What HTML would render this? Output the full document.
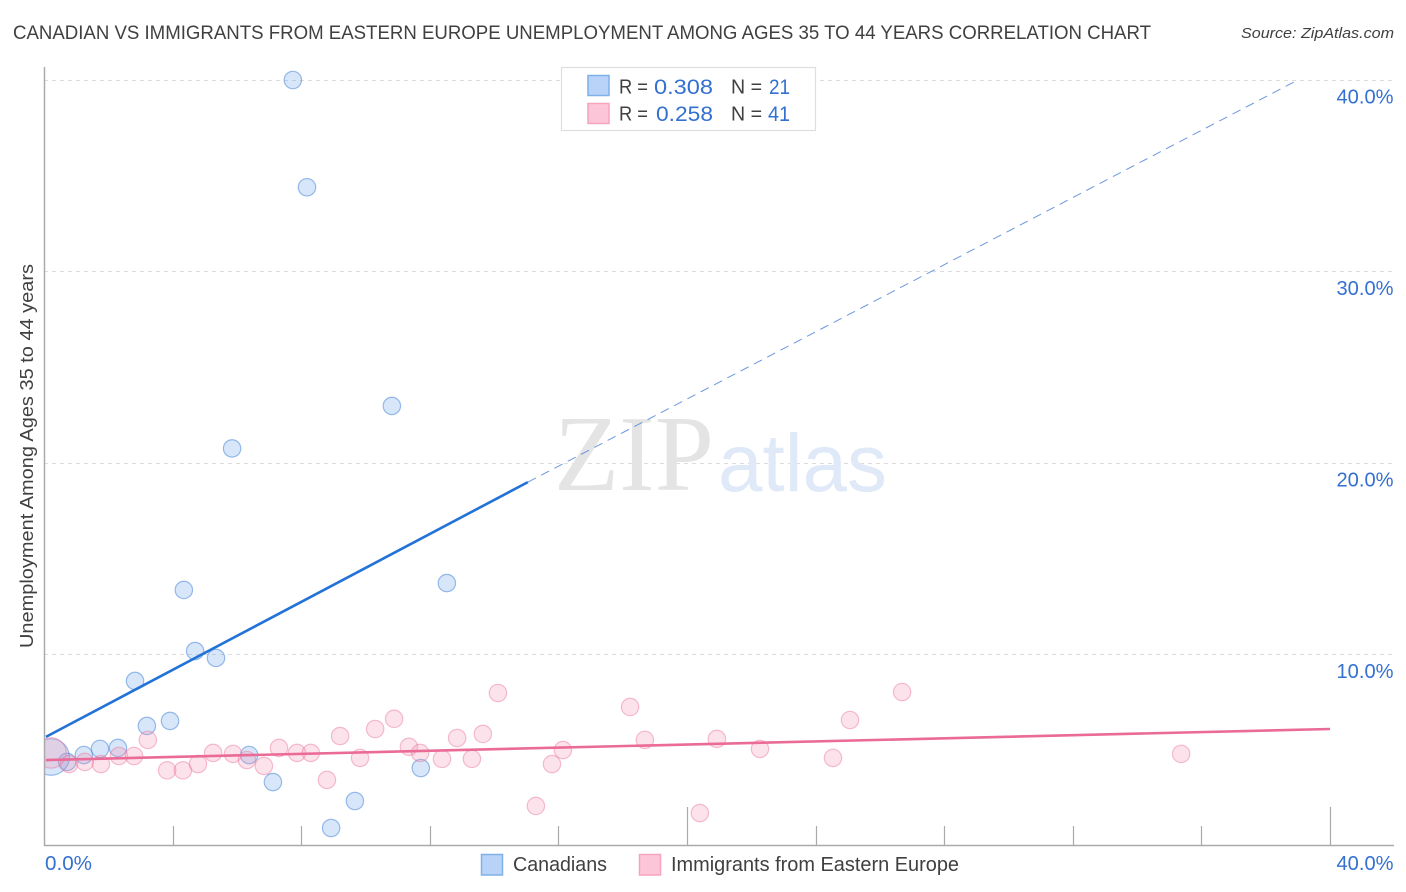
<!DOCTYPE html>
<html lang="en">
<head>
<meta charset="utf-8">
<title>Canadian vs Immigrants from Eastern Europe Unemployment Correlation Chart</title>
<style>
html,body{margin:0;padding:0;background:#fff;}
body{width:1406px;height:892px;overflow:hidden;}
svg{display:block;font-family:"Liberation Sans",sans-serif;}
</style>
</head>
<body>
<svg id="chart" xmlns="http://www.w3.org/2000/svg" width="1406" height="892" viewBox="0 0 1406 892">
  <rect width="1406" height="892" fill="#fff"/>
  <text x="13" y="39" font-size="19" fill="#404040" textLength="1138" lengthAdjust="spacingAndGlyphs">CANADIAN VS IMMIGRANTS FROM EASTERN EUROPE UNEMPLOYMENT AMONG AGES 35 TO 44 YEARS CORRELATION CHART</text>
  <text x="1394" y="38" font-size="15" font-style="italic" fill="#404040" text-anchor="end" textLength="153" lengthAdjust="spacingAndGlyphs">Source: ZipAtlas.com</text>

  <g id="grid"></g>

  <text x="554" y="490" font-family="'Liberation Serif',serif" font-size="108" fill="#e4e4e4" textLength="160" lengthAdjust="spacingAndGlyphs">ZIP</text>
  <text x="718" y="491" font-size="82" fill="#dfe9f8" textLength="169" lengthAdjust="spacingAndGlyphs">atlas</text>

  <g id="points"></g>
  <rect x="0" y="725" width="44" height="60" fill="#fff"/>
  <g id="axes"></g>
  <g id="trends"></g>
  <g id="tick-labels"></g>

  <text transform="translate(33,648) rotate(-90)" font-size="18.5" fill="#404040" textLength="384" lengthAdjust="spacingAndGlyphs">Unemployment Among Ages 35 to 44 years</text>

  <g>
    <rect x="561.5" y="67.5" width="254" height="63" fill="#fff" stroke="#dedede" stroke-width="1.2"/>
    <rect x="588" y="75.5" width="21" height="20" fill="#b8d3f7" stroke="#7fb0e8" stroke-width="1.5"/>
    <rect x="588" y="103.5" width="21" height="20" fill="#fdc6d8" stroke="#f5a3bf" stroke-width="1.5"/>
    <text x="619" y="93.5" font-size="20" fill="#404040" textLength="29" lengthAdjust="spacingAndGlyphs">R =</text>
    <text x="654" y="94" font-size="21" fill="#3470d0" textLength="59" lengthAdjust="spacingAndGlyphs">0.308</text>
    <text x="731" y="93.5" font-size="20" fill="#404040" textLength="31" lengthAdjust="spacingAndGlyphs">N =</text>
    <text x="769" y="94" font-size="21" fill="#3470d0" textLength="21" lengthAdjust="spacingAndGlyphs">21</text>
    <text x="619" y="120.5" font-size="20" fill="#404040" textLength="29" lengthAdjust="spacingAndGlyphs">R =</text>
    <text x="656" y="121" font-size="21" fill="#3470d0" textLength="57" lengthAdjust="spacingAndGlyphs">0.258</text>
    <text x="731" y="120.5" font-size="20" fill="#404040" textLength="31" lengthAdjust="spacingAndGlyphs">N =</text>
    <text x="768" y="121" font-size="21" fill="#3470d0" textLength="22" lengthAdjust="spacingAndGlyphs">41</text>
  </g>

  <g>
    <rect x="481.5" y="854.5" width="21" height="20.5" fill="#b8d3f7" stroke="#7fb0e8" stroke-width="1.5"/>
    <text x="513" y="871" font-size="20" fill="#404040" textLength="94" lengthAdjust="spacingAndGlyphs">Canadians</text>
    <rect x="639.5" y="854.5" width="21" height="20.5" fill="#fdc6d8" stroke="#f5a3bf" stroke-width="1.5"/>
    <text x="671" y="871" font-size="20" fill="#404040" textLength="288" lengthAdjust="spacingAndGlyphs">Immigrants from Eastern Europe</text>
  </g>
</svg>
<script>
// Chart data (percent values)
const canadiansX = [7.74, 8.18, 10.82, 5.85, 12.53, 4.35, 4.70, 5.35, 2.83, 3.20, 3.92, 1.74, 2.30, 1.24, 0.72, 0.22, 6.38, 7.12, 11.72, 9.67, 8.93];
const canadiansY = [40.0, 34.4, 22.98, 20.76, 13.73, 13.37, 10.18, 9.82, 8.62, 6.27, 6.53, 5.07, 5.12, 4.75, 4.39, 4.65, 4.75, 3.34, 4.07, 2.35, 0.94];
const canadiansR = [1, 1, 1, 1, 1, 1, 1, 1, 1, 1, 1, 1, 1, 1, 1, 2.1, 1, 1, 1, 1, 1];

const immigrantsX = [0.22, 0.78, 1.27, 1.77, 2.33, 2.80, 3.23, 3.83, 4.32, 4.79, 5.26, 5.88, 6.31, 6.84, 7.31, 7.87, 8.30, 8.80, 9.21, 9.83, 10.30, 10.89, 11.35, 11.70, 12.38, 12.85, 13.31, 13.65, 14.12, 15.30, 15.80, 16.14, 18.23, 18.69, 20.40, 20.93, 22.27, 24.54, 25.07, 26.69, 35.37];
const immigrantsY = [4.86, 4.28, 4.39, 4.28, 4.70, 4.70, 5.54, 3.95, 3.95, 4.28, 4.86, 4.81, 4.49, 4.18, 5.12, 4.86, 4.86, 3.45, 5.74, 4.60, 6.11, 6.64, 5.18, 4.86, 4.55, 5.64, 4.55, 5.85, 7.99, 2.09, 4.28, 5.01, 7.26, 5.54, 1.72, 5.59, 5.07, 4.60, 6.58, 8.04, 4.81];
const immigrantsR = [1.75, 1, 1, 1, 1, 1, 1, 1, 1, 1, 1, 1, 1, 1, 1, 1, 1, 1, 1, 1, 1, 1, 1, 1, 1, 1, 1, 1, 1, 1, 1, 1, 1, 1, 1, 1, 1, 1, 1, 1, 1];

const canadiansTrendX = [0.06, 15.05, 39.0];
const canadiansTrendY = [5.70, 19.00, 40.0];
const immigrantsTrendX = [0.06, 40.0];
const immigrantsTrendY = [4.49, 6.11];

const xTickValues = [0, 4, 8, 12, 16, 20, 24, 28, 32, 36, 40];
const xMajorTicks = [20, 40];
const xTickLabels = ["0.0%", "40.0%"];
const xLabelValues = [0, 40];
const yTickValues = [10, 20, 30, 40];
const yTickLabels = ["10.0%", "20.0%", "30.0%", "40.0%"];

// Axis functions
const xScale = function (v) { return 44 + v * 32.15; };
const yScale = function (v) { return 846 - v * 19.15; };

const NS = 'http://www.w3.org/2000/svg';
function make(tag, attrs, parent) {
  const el = document.createElementNS(NS, tag);
  Object.keys(attrs).forEach(function (k) { el.setAttribute(k, attrs[k]); });
  parent.appendChild(el);
  return el;
}
const gridG = document.getElementById('grid');
const axesG = document.getElementById('axes');
const pointsG = document.getElementById('points');
const trendsG = document.getElementById('trends');
const labelsG = document.getElementById('tick-labels');

yTickValues.forEach(function (v, i) {
  const y = Math.floor(yScale(v)) + 0.5;
  const line = make('line', { x1: 44, x2: 1394, y1: y, y2: y, stroke: '#dcdcdc', 'stroke-width': 1, 'stroke-dasharray': '4 4' }, gridG);
  
  
  const t = make('text', { x: 1393.5, y: yScale(v) + 23.5, 'font-size': 20, fill: '#3470d0', 'text-anchor': 'end', textLength: 57, lengthAdjust: 'spacingAndGlyphs' }, labelsG);
  t.textContent = yTickLabels[i];
  
  
});

const yAxis = make('line', { x1: 44.5, x2: 44.5, y1: 67, y2: 846, stroke: '#aaa', 'stroke-width': 1.5 }, axesG);


const xAxis = make('line', { x1: 44, x2: 1394, y1: 845.5, y2: 845.5, stroke: '#aaa', 'stroke-width': 1.5 }, axesG);



xTickValues.forEach(function (v) {
  if (v === 0) { return; }
  const x = Math.round(xScale(v)) + 0.5;
  const top = xMajorTicks.indexOf(v) >= 0 ? 807 : 826;
  const tick = make('line', { x1: x, x2: x, y1: top, y2: 845, stroke: '#aaa', 'stroke-width': 1.2 }, axesG);
  
  
});

xLabelValues.forEach(function (v, i) {
  const t = make('text', { x: v === 0 ? xScale(v) + 1 : 1393.5, y: 870, 'font-size': 20, fill: '#3470d0', 'text-anchor': v === 0 ? 'start' : 'end', textLength: v === 0 ? 47 : 57, lengthAdjust: 'spacingAndGlyphs' }, labelsG);
  t.textContent = xTickLabels[i];
  
  
});

canadiansX.forEach(function (v, i) {
  const c = make('circle', { cx: xScale(v), cy: yScale(canadiansY[i]), r: 8.7 * canadiansR[i], fill: 'rgba(110,165,235,0.28)', stroke: 'rgba(60,125,215,0.5)', 'stroke-width': 1.2 }, pointsG);
  
  
});
immigrantsX.forEach(function (v, i) {
  const c = make('circle', { cx: xScale(v), cy: yScale(immigrantsY[i]), r: 8.7 * immigrantsR[i], fill: 'rgba(245,150,180,0.28)', stroke: 'rgba(235,115,155,0.45)', 'stroke-width': 1.2 }, pointsG);
  
  
});

const blueSolid = make('line', { x1: xScale(canadiansTrendX[0]), y1: yScale(canadiansTrendY[0]), x2: xScale(canadiansTrendX[1]), y2: yScale(canadiansTrendY[1]), stroke: '#2272d8', 'stroke-width': 2.6 }, trendsG);


const blueDash = make('line', { x1: xScale(canadiansTrendX[1]), y1: yScale(canadiansTrendY[1]), x2: xScale(canadiansTrendX[2]), y2: yScale(canadiansTrendY[2]), stroke: '#6b97de', 'stroke-width': 1, 'stroke-dasharray': '9 6' }, trendsG);


const pinkSolid = make('line', { x1: xScale(immigrantsTrendX[0]), y1: yScale(immigrantsTrendY[0]), x2: xScale(immigrantsTrendX[1]), y2: yScale(immigrantsTrendY[1]), stroke: '#ea6a98', 'stroke-width': 2.6 }, trendsG);


</script>
</body>
</html>
